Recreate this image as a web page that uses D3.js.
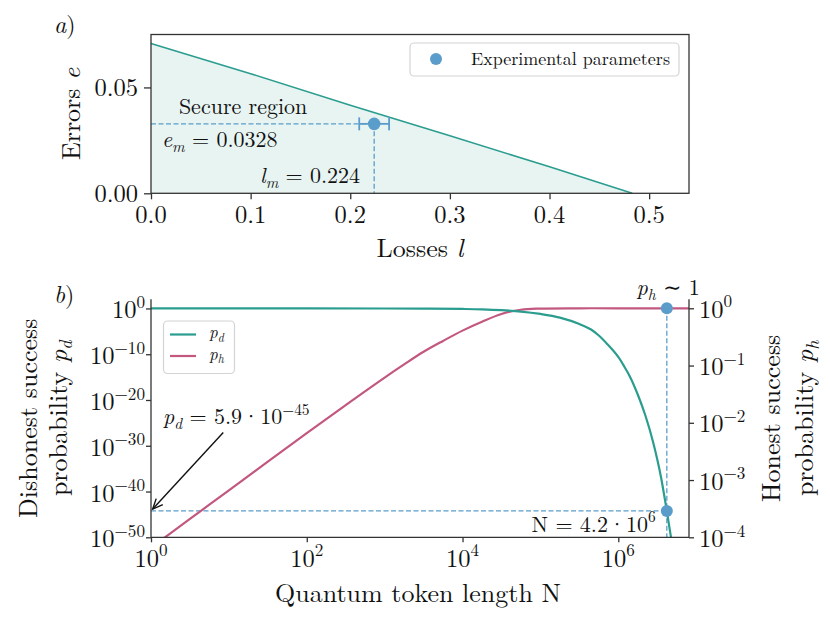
<!DOCTYPE html>
<html><head><meta charset="utf-8">
<script src="https://cdn.jsdelivr.net/npm/d3@7"></script>
<style>
body{margin:0;background:#fff}
svg{display:block}
</style>
</head><body><svg id="c" width="830" height="623"></svg>
<script>
// ---------- Panel a data ----------
const lossGrid   = [0, 0.1, 0.2, 0.3, 0.4, 0.483];
const errorBound = [0.0708, 0.0565, 0.0416, 0.0272, 0.0125, 0];
const expLoss = 0.224, expError = 0.0328, expLossErr = 0.015;
const xTicksA = [0, 0.1, 0.2, 0.3, 0.4, 0.5];
const yTicksA = [0, 0.05];

// ---------- Panel b data (log10 values) ----------
const pdLogN = [0, 1, 2, 3, 3.5, 4, 4.25, 4.5, 4.75, 5, 5.25, 5.5, 5.65, 5.75, 5.86, 6, 6.07, 6.15, 6.25, 6.35, 6.45, 6.55, 6.623, 6.7];
const pdLogP = [0, 0, -0.001, -0.01, -0.035, -0.11, -0.2, -0.38, -0.68, -1.2, -2.0, -3.4, -4.6, -5.9, -7.8, -10.6, -12.5, -14.9, -18.8, -23.5, -29.4, -37.0, -44.23, -52.5];
const phLogN = [0, 0.5, 1, 1.5, 2, 2.5, 3, 3.25, 3.5, 3.75, 4, 4.25, 4.5, 4.75, 5, 5.5, 6, 6.908];
const phLogP = [-4.18, -3.68, -3.18, -2.68, -2.18, -1.69, -1.21, -0.98, -0.76, -0.57, -0.39, -0.235, -0.1, -0.025, -0.005, 0, 0, 0];
const tokenN = 4.2e6, pdAtN = 5.9e-45, phAtN = 1;
const xTickExpB = [0, 2, 4, 6];
const yTickExpL = [0, -10, -20, -30, -40, -50];
const yTickExpR = [0, -1, -2, -3, -4];

// ---------- styles ----------
const TEAL = "#2a9d8f", PINK = "#c2587f", BLUE = "#5b9dca", FILL = "#e8f4f2", SPINE = "#333";
const FONT = '"Latin Modern Roman","Liberation Serif","DejaVu Serif",serif';
const TICKFS = 24.5, LABFS = 26, ANNFS = 22;

const svg = d3.select("#c");

function rich(parent, x, y, parts, fs, anchor, transform) {
  const t = parent.append("text").attr("x", x).attr("y", y)
    .style("font-family", FONT).style("font-size", fs + "px")
    .attr("fill", "#111").attr("text-anchor", anchor || "start");
  if (transform) t.attr("transform", transform);
  let cur = 0;
  parts.forEach(p => {
    const tgt = p.sup ? -0.42 * fs : p.sub ? 0.22 * fs : 0;
    const s = t.append("tspan").text(p.t).attr("dy", tgt - cur);
    if (p.dx) s.attr("dx", p.dx);
    if (p.sup || p.sub) s.style("font-size", (fs * 0.7) + "px");
    if (p.i) s.style("font-style", "italic");
    cur = tgt;
  });
  return t;
}

// ================= Panel a =================
const A = {l: 151, r: 689, t: 34.5, b: 193.3};
const xA = d3.scaleLinear([0, 0.54], [A.l, A.r]);
const yA = d3.scaleLinear([0, 0.075], [A.b, A.t]);
const gA = svg.append("g");
const boundData = lossGrid.map((l, i) => [l, errorBound[i]]);

gA.append("path").datum(boundData)
  .attr("d", d3.area().x(d => xA(d[0])).y0(yA(0)).y1(d => yA(d[1])))
  .attr("fill", FILL);
gA.append("path").datum(boundData)
  .attr("d", d3.line().x(d => xA(d[0])).y(d => yA(d[1])))
  .attr("fill", "none").attr("stroke", TEAL).attr("stroke-width", 1.6);

gA.append("line").attr("x1", xA(0)).attr("x2", xA(expLoss)).attr("y1", yA(expError)).attr("y2", yA(expError))
  .attr("stroke", BLUE).attr("stroke-width", 1.3).attr("stroke-dasharray", "5,2.5");
gA.append("line").attr("x1", xA(expLoss)).attr("x2", xA(expLoss)).attr("y1", yA(expError)).attr("y2", yA(0))
  .attr("stroke", BLUE).attr("stroke-width", 1.3).attr("stroke-dasharray", "5,2.5");
gA.append("line").attr("x1", xA(expLoss - expLossErr)).attr("x2", xA(expLoss + expLossErr))
  .attr("y1", yA(expError)).attr("y2", yA(expError)).attr("stroke", BLUE).attr("stroke-width", 1.8);
[expLoss - expLossErr, expLoss + expLossErr].forEach(v => {
  gA.append("line").attr("x1", xA(v)).attr("x2", xA(v)).attr("y1", yA(expError) - 6.5).attr("y2", yA(expError) + 6.5)
    .attr("stroke", BLUE).attr("stroke-width", 1.8);
});
gA.append("circle").attr("cx", xA(expLoss)).attr("cy", yA(expError)).attr("r", 6.3).attr("fill", BLUE);

gA.append("rect").attr("x", A.l).attr("y", A.t).attr("width", A.r - A.l).attr("height", A.b - A.t)
  .attr("fill", "none").attr("stroke", SPINE).attr("stroke-width", 1.3);

const axA = gA.append("g").attr("transform", `translate(0,${A.b})`)
  .call(d3.axisBottom(xA).tickValues(xTicksA).tickSize(6).tickFormat(""));
axA.select(".domain").remove();
axA.selectAll("line").attr("stroke", SPINE).attr("stroke-width", 1.3);
const ayA = gA.append("g").attr("transform", `translate(${A.l},0)`)
  .call(d3.axisLeft(yA).tickValues(yTicksA).tickSize(7).tickFormat(""));
ayA.select(".domain").remove();
ayA.selectAll("line").attr("stroke", SPINE).attr("stroke-width", 1.3);

xTicksA.forEach(v => rich(gA, xA(v), 223, [{t: v.toFixed(1)}], TICKFS, "middle"));
yTicksA.forEach(v => rich(gA, 138, yA(v) + 8.5, [{t: v.toFixed(2)}], TICKFS, "end"));

rich(gA, 420, 257, [{t: "Losses "}, {t: "l", i: true}], LABFS, "middle");
rich(gA, 0, 0, [{t: "Errors "}, {t: "e", i: true}], LABFS, "middle", `translate(80,${(A.t + A.b) / 2}) rotate(-90)`);
rich(gA, 54, 33, [{t: "a", i: true}, {t: ")"}], 24, "start");

rich(gA, xA(0.028), yA(0.0374), [{t: "Secure region"}], ANNFS);
rich(gA, xA(0.011), yA(0.0219), [{t: "e", i: true}, {t: "m", i: true, sub: true}, {t: " = 0.0328"}], ANNFS);
rich(gA, xA(0.1094), yA(0.0048), [{t: "l", i: true}, {t: "m", i: true, sub: true}, {t: " = 0.224"}], ANNFS);

const legA = gA.append("g");
legA.append("rect").attr("x", 410).attr("y", 43).attr("width", 269).attr("height", 33).attr("rx", 4)
  .attr("fill", "#fff").attr("fill-opacity", 0.85).attr("stroke", "#d4d4d4").attr("stroke-width", 1.2);
legA.append("circle").attr("cx", 436).attr("cy", 59).attr("r", 6).attr("fill", BLUE);
rich(legA, 471, 65, [{t: "Experimental parameters"}], 18);

// ================= Panel b =================
const B = {l: 151, r: 689, t: 299.3, b: 537.3};
const xB = d3.scaleLog([1, Math.pow(10, 6.908)], [B.l, B.r]);
const yL = d3.scaleLog([1e-50, 1e2], [B.b, B.t]);
const yR = d3.scaleLog([1e-4, Math.pow(10, 0.157)], [B.b, B.t]);
const gB = svg.append("g");

svg.append("defs").append("clipPath").attr("id", "clipB").append("rect")
  .attr("x", B.l).attr("y", B.t).attr("width", B.r - B.l).attr("height", B.b - B.t);
const plotB = gB.append("g").attr("clip-path", "url(#clipB)");

plotB.append("line").attr("x1", xB(1)).attr("x2", xB(tokenN)).attr("y1", yL(pdAtN)).attr("y2", yL(pdAtN))
  .attr("stroke", BLUE).attr("stroke-width", 1.3).attr("stroke-dasharray", "5,2.5");
plotB.append("line").attr("x1", xB(tokenN)).attr("x2", xB(tokenN)).attr("y1", yR(phAtN)).attr("y2", B.b)
  .attr("stroke", BLUE).attr("stroke-width", 1.3).attr("stroke-dasharray", "5,2.5");

const pdData = pdLogN.map((n, i) => [Math.pow(10, n), Math.pow(10, pdLogP[i])]);
const phData = phLogN.map((n, i) => [Math.pow(10, n), Math.pow(10, phLogP[i])]);
plotB.append("path").datum(phData)
  .attr("d", d3.line().curve(d3.curveCatmullRom.alpha(0.5)).x(d => xB(d[0])).y(d => yR(d[1])))
  .attr("fill", "none").attr("stroke", PINK).attr("stroke-width", 2.2);
plotB.append("path").datum(pdData)
  .attr("d", d3.line().curve(d3.curveMonotoneX).x(d => xB(d[0])).y(d => yL(d[1])))
  .attr("fill", "none").attr("stroke", TEAL).attr("stroke-width", 2.2);

gB.append("circle").attr("cx", xB(tokenN)).attr("cy", yR(phAtN)).attr("r", 6).attr("fill", BLUE);
gB.append("circle").attr("cx", xB(tokenN)).attr("cy", yL(pdAtN)).attr("r", 6).attr("fill", BLUE);

[[B.l, B.t, B.l, B.b], [B.l, B.b, B.r, B.b], [B.r, B.t, B.r, B.b]].forEach(s => {
  gB.append("line").attr("x1", s[0]).attr("y1", s[1]).attr("x2", s[2]).attr("y2", s[3])
    .attr("stroke", SPINE).attr("stroke-width", 1.3);
});

const axB = gB.append("g").attr("transform", `translate(0,${B.b})`)
  .call(d3.axisBottom(xB).tickValues(xTickExpB.map(e => Math.pow(10, e))).tickSize(5).tickFormat(""));
const ayL = gB.append("g").attr("transform", `translate(${B.l},0)`)
  .call(d3.axisLeft(yL).tickValues(yTickExpL.map(e => Math.pow(10, e))).tickSize(5).tickFormat(""));
const ayR = gB.append("g").attr("transform", `translate(${B.r},0)`)
  .call(d3.axisRight(yR).tickValues(yTickExpR.map(e => Math.pow(10, e))).tickSize(5).tickFormat(""));
[axB, ayL, ayR].forEach(a => {
  a.select(".domain").remove();
  a.selectAll("line").attr("stroke", SPINE).attr("stroke-width", 1.3);
});
const expStr = e => (e < 0 ? "\u2212" + (-e) : "" + e);
xTickExpB.forEach(e => rich(gB, xB(Math.pow(10, e)), 566.5, [{t: "10"}, {t: expStr(e), sup: true}], TICKFS, "middle"));
yTickExpL.forEach(e => rich(gB, 145, yL(Math.pow(10, e)) + 10, [{t: "10"}, {t: expStr(e), sup: true}], TICKFS, "end"));
yTickExpR.forEach(e => rich(gB, 699, yR(Math.pow(10, e)) + 9.5, [{t: "10"}, {t: expStr(e), sup: true}], TICKFS, "start"));

rich(gB, 418, 601.5, [{t: "Quantum token length N"}], LABFS, "middle");
const cyB = (B.t + B.b) / 2;
rich(gB, 0, 0, [{t: "Dishonest success"}], LABFS, "middle", `translate(36.5,${cyB}) rotate(-90)`);
rich(gB, 0, 0, [{t: "probability "}, {t: "p", i: true}, {t: "d", i: true, sub: true}], LABFS, "middle", `translate(66.5,${cyB}) rotate(-90)`);
rich(gB, 0, 0, [{t: "Honest success"}], LABFS, "middle", `translate(780,${cyB}) rotate(-90)`);
rich(gB, 0, 0, [{t: "probability "}, {t: "p", i: true}, {t: "h", i: true, sub: true}], LABFS, "middle", `translate(813,${cyB}) rotate(-90)`);
rich(gB, 54, 303, [{t: "b", i: true}, {t: ")"}], 24, "start");

rich(gB, xB(tokenN) - 11, 531.5, [{t: "N = 4.2"}, {t: "\u00B7", dx: 0.5}, {t: "10", dx: 0.5}, {t: "6", sup: true}], ANNFS, "end");
rich(gB, 636.5, 295, [{t: "p", i: true}, {t: "h", i: true, sub: true}, {t: " \u223C 1"}], ANNFS, "start");
rich(gB, 163, 424, [{t: "p", i: true}, {t: "d", i: true, sub: true}, {t: " = 5.9"}, {t: "\u00B7", dx: 0.5}, {t: "10", dx: 0.5}, {t: "\u221245", sup: true}], ANNFS, "start");

const ax0 = xB(Math.pow(10, 0.928)), ay0 = yL(Math.pow(10, -27.1));
const ax1 = xB(1), ay1 = yL(pdAtN);
const ang = Math.atan2(ay1 - ay0, ax1 - ax0);
const tipX = ax1 - 2.5 * Math.cos(ang), tipY = ay1 - 2.5 * Math.sin(ang);
gB.append("line").attr("x1", ax0).attr("y1", ay0).attr("x2", tipX).attr("y2", tipY)
  .attr("stroke", "#111").attr("stroke-width", 1.4);
const hl = 11, ha = 0.42;
gB.append("path")
  .attr("d", `M${tipX - hl * Math.cos(ang - ha)},${tipY - hl * Math.sin(ang - ha)} L${tipX},${tipY} L${tipX - hl * Math.cos(ang + ha)},${tipY - hl * Math.sin(ang + ha)}`)
  .attr("fill", "none").attr("stroke", "#111").attr("stroke-width", 1.4);

const legB = gB.append("g");
legB.append("rect").attr("x", 163.5).attr("y", 321).attr("width", 71).attr("height", 52.5).attr("rx", 4)
  .attr("fill", "#fff").attr("fill-opacity", 0.85).attr("stroke", "#d4d4d4").attr("stroke-width", 1.2);
[[TEAL, "d", 334.5], [PINK, "h", 356]].forEach(([c, s, y]) => {
  legB.append("line").attr("x1", 170).attr("x2", 196).attr("y1", y).attr("y2", y).attr("stroke", c).attr("stroke-width", 2.2);
  rich(legB, 209, y + 3.5, [{t: "p", i: true}, {t: s, i: true, sub: true}], 17, "start");
});
</script></body></html>
